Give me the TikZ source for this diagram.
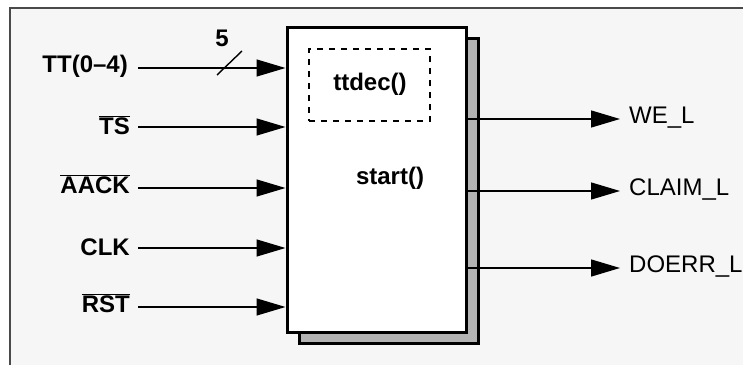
\documentclass[tikz,border=0pt]{standalone}
\usepackage{fontspec}
\setmainfont{Liberation Sans}
\usetikzlibrary{arrows.meta}
\definecolor{bgray}{HTML}{F6F6F6}
\definecolor{framec}{HTML}{4A4A4A}
\definecolor{shadowc}{HTML}{B3B3B3}
\newcommand{\ovl}[1]{$\overline{\hbox{\bfseries #1}}$}
\begin{document}
\begin{tikzpicture}[x=1pt,y=-1pt,
  inlabel/.style={font=\fontsize{24}{27}\selectfont\bfseries, anchor=east, inner xsep=0pt, inner ysep=1pt},
  outlabel/.style={font=\fontsize{24}{27}\selectfont, anchor=west, inner xsep=0pt, inner ysep=1pt},
  funlabel/.style={font=\fontsize{24}{27}\selectfont\bfseries, inner sep=0pt},
  sig/.style={line width=1.4pt, -{Triangle[length=29pt,width=17pt]}},
  blockbox/.style={draw=black, fill=white, line width=3pt, minimum width=179pt, minimum height=305pt, inner sep=0pt},
  shadowbox/.style={draw=black, fill=shadowc, line width=3pt, minimum width=179pt, minimum height=305pt, inner sep=0pt},
  dashbox/.style={draw=black, dash pattern=on 6pt off 6pt, line width=1.3pt, minimum width=121pt, minimum height=72pt, inner sep=0pt}
]
\useasboundingbox (0,0) rectangle (743,364);
\fill[white] (0,0) rectangle (743,364);
\draw[framec, fill=bgray, line width=2pt] (10,8) rectangle (780,400);

% block and its shadow
\node[shadowbox] (shadow) at (388.5,190.5) {};
\node[blockbox] (box) at (376.5,179.5) {};
\node[dashbox] (dec) at (369.5,85) {};
\node[funlabel] (ttdec) at (370,84) {ttdec()};
\node[funlabel] (start) at (390,178) {start()};

% inputs
\coordinate (iTT) at (138,68);
\coordinate (iTS) at (138,127);
\coordinate (iAACK) at (138,188);
\coordinate (iCLK) at (138,248);
\coordinate (iRST) at (138,307);
\node[inlabel] (lTT) at (128,66) {TT(0–4)};
\node[inlabel] (lTS) at (130,125) {\ovl{TS}};
\node[inlabel] (lAACK) at (130,184) {\ovl{AACK}};
\node[inlabel] (lCLK) at (130,247) {CLK};
\node[inlabel] (lRST) at (130,303) {\ovl{RST}};
\foreach \s in {TT,TS,AACK,CLK,RST}
  \draw[sig] (i\s) -- (i\s -| box.west);

% bus width mark
\coordinate (slA) at (217,75);
\coordinate (slB) at (242,51);
\draw[line width=1.4pt] (slA) -- (slB);
\node[funlabel] (five) at (222,38) {5};

% outputs
\coordinate (oWE) at (620,119);
\coordinate (oCL) at (620,191);
\coordinate (oDO) at (620,268);
\node[outlabel] (lWE) at (629,118) {WE\_L};
\node[outlabel] (lCL) at (629,190) {CLAIM\_L};
\node[outlabel] (lDO) at (629,267) {DOERR\_L};
\foreach \s in {WE,CL,DO}
  \draw[sig] (box.east |- o\s) -- (o\s);
\end{tikzpicture}
\end{document}
